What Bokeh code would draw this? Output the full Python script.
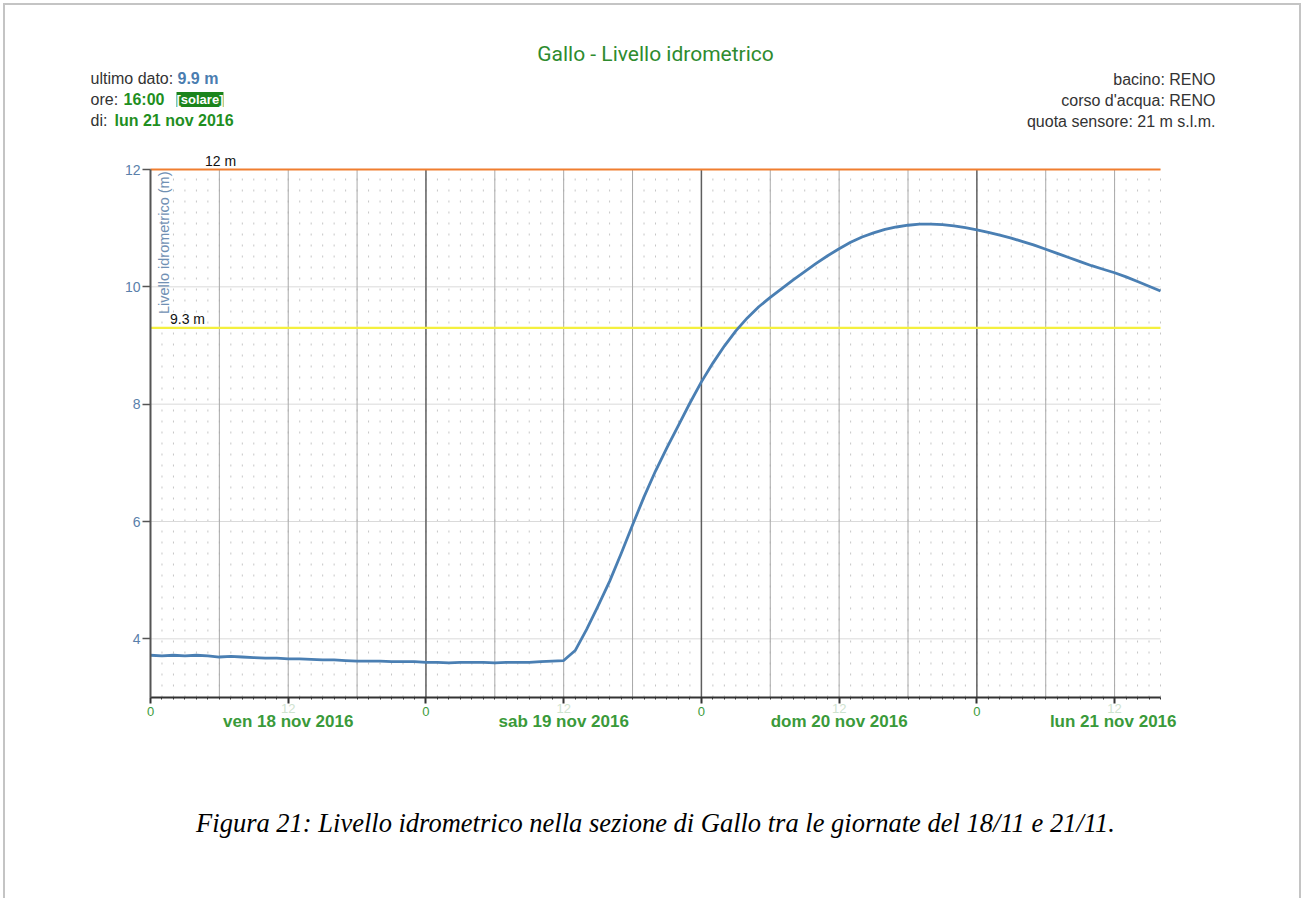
import math
from bokeh.plotting import figure
from bokeh.models import Range1d, FixedTicker, Label, LinearAxis
from bokeh.embed import file_html
from bokeh.resources import INLINE

# ---------------- data ----------------
# hours since ven 18 nov 2016 00:00 (solar time)
hours = list(range(0, 89))
level = [
    3.72, 3.71, 3.72, 3.71, 3.72, 3.71, 3.69, 3.70, 3.69, 3.68,
    3.67, 3.67, 3.66, 3.66, 3.65, 3.64, 3.64, 3.63, 3.62, 3.62,
    3.62, 3.61, 3.61, 3.61, 3.60, 3.60, 3.59, 3.60, 3.60, 3.60,
    3.59, 3.60, 3.60, 3.60, 3.61, 3.62, 3.63, 3.80, 4.16, 4.56,
    4.98, 5.45, 5.94, 6.42, 6.86, 7.26, 7.64, 8.02, 8.38, 8.70,
    8.99, 9.25, 9.47, 9.66, 9.82, 9.97, 10.12, 10.26, 10.40, 10.53,
    10.65, 10.76, 10.85, 10.92, 10.98, 11.02, 11.05, 11.07, 11.07, 11.06,
    11.04, 11.01, 10.97, 10.93, 10.88, 10.83, 10.77, 10.71, 10.64, 10.57,
    10.50, 10.43, 10.36, 10.30, 10.24, 10.17, 10.09, 10.01, 9.93,
]
x_min, x_max = 0, 88          # axis extent (hours)
y_min, y_max = 3, 12          # axis extent (m)
thresholds = [12.0, 9.3]
threshold_labels = ["12 m", "9.3 m"]
threshold_colors = ["#f07e30", "#f4f03e"]
y_ticks = [4, 6, 8, 10, 12]
x_major = [0, 12, 24, 36, 48, 60, 72, 84]
x_major_text = ["0", "", "0", "", "0", "", "0", ""]
x_noon = [12, 36, 60, 84]
day_names = ["ven 18 nov 2016", "sab 19 nov 2016", "dom 20 nov 2016", "lun 21 nov 2016"]
day_bounds = [24, 48, 72]
six_hour_lines = [6, 12, 18, 30, 36, 42, 54, 60, 66, 78, 84]

SANS = "Liberation Sans"

# ---------------- layout (page pixels) ----------------
W, H = 1298, 895
CX0, CY0 = 5, 5                        # canvas origin on the page
FRAME_L, FRAME_R, FRAME_T, FRAME_B = 150, 1160, 169, 697
px_h = (FRAME_R - FRAME_L) / (x_max - x_min)
px_m = (FRAME_B - FRAME_T) / (y_max - y_min)
xr = Range1d(x_min - (FRAME_L - CX0) / px_h, x_max + (CX0 + W - FRAME_R) / px_h)
yr = Range1d(y_min - (CY0 + H - FRAME_B) / px_m, y_max + (FRAME_T - CY0) / px_m)

p = figure(
    width=W, height=H, x_range=xr, y_range=yr,
    x_axis_location=None, y_axis_location=None,
    output_backend="svg", toolbar_location=None,
    min_border=0, min_border_left=0, min_border_right=0,
    min_border_top=0, min_border_bottom=0,
    background_fill_color="white", border_fill_color="white",
    styles={"margin-left": "3px", "margin-top": "3px",
            "border-top": "2px solid #c4c4c4", "border-left": "2px solid #c4c4c4",
            "border-right": "2px solid #c4c4c4"},
)
p.outline_line_color = None
p.title.visible = False
p.xgrid.visible = False
p.ygrid.visible = False

# ---------------- grid lines ----------------
n_h = len(hours)
p.segment(x0=hours, y0=[y_min] * n_h, x1=hours, y1=[y_max] * n_h,
          line_color="#c6c6c6", line_width=1, line_dash="2 9")
p.segment(x0=[x_min] * len(y_ticks), y0=y_ticks,
          x1=[x_max] * len(y_ticks), y1=y_ticks, line_color="#dadada", line_width=1)
p.segment(x0=six_hour_lines, y0=[y_min] * len(six_hour_lines),
          x1=six_hour_lines, y1=[y_max] * len(six_hour_lines),
          line_color="#a9a9a9", line_width=1)
p.segment(x0=day_bounds, y0=[y_min] * len(day_bounds),
          x1=day_bounds, y1=[y_max] * len(day_bounds),
          line_color="#5e5e5e", line_width=1.5)

# thresholds
p.segment(x0=[x_min] * len(thresholds), y0=thresholds, x1=[x_max] * len(thresholds),
          y1=thresholds, line_color=threshold_colors, line_width=2.2)

# series
p.line(hours, level, line_color="#4a7fb3", line_width=2.8, line_join="round")

# ---------------- axes ----------------
xa = LinearAxis(fixed_location=y_min, bounds=(x_min, x_max),
                ticker=FixedTicker(ticks=x_major, minor_ticks=hours))
xa.major_label_overrides = {t: s for t, s in zip(x_major, x_major_text)}
xa.axis_line_color = "#333333"
xa.axis_line_width = 2
xa.major_tick_line_color = "#333333"
xa.major_tick_line_width = 2
xa.major_tick_out = 6
xa.major_tick_in = 0
xa.minor_tick_line_color = "#333333"
xa.minor_tick_out = 2
xa.minor_tick_in = 0
xa.major_label_text_color = "#3c9c3c"
xa.major_label_text_font = SANS
xa.major_label_text_font_size = "13px"
xa.major_label_standoff = 3
p.add_layout(xa, "below")

ya = LinearAxis(fixed_location=x_min, bounds=(y_min, y_max), ticker=FixedTicker(ticks=y_ticks))
ya.axis_line_color = "#555555"
ya.axis_line_width = 2
ya.major_tick_line_color = "#555555"
ya.major_tick_line_width = 1.5
ya.major_tick_out = 8
ya.major_tick_in = 0
ya.minor_tick_line_color = None
ya.major_label_text_color = "#5a80aa"
ya.major_label_text_font = SANS
ya.major_label_text_font_size = "14px"
ya.major_label_standoff = 2
p.add_layout(ya, "left")


# ---------------- text (page pixel positions -> offsets from frame corners) ----------------
def top_label(text, px, py, **kw):
    kw.setdefault("text_font", SANS)
    kw.setdefault("text_baseline", "middle")
    p.add_layout(Label(x=x_min, y=y_max, x_offset=px - FRAME_L, y_offset=FRAME_T - py,
                       text=text, **kw))


def bottom_label(text, xh, px_off, py, **kw):
    kw.setdefault("text_font", SANS)
    kw.setdefault("text_baseline", "middle")
    p.add_layout(Label(x=xh, y=y_min, x_offset=px_off, y_offset=FRAME_B - py,
                       text=text, **kw))


# title
top_label("Gallo - Livello idrometrico", 655, 53, text_font="Roboto",
          text_font_size="21px", text_color="#2e8b2e", text_align="center")

# left info block
GRAY = "#333333"
top_label("ultimo dato:", 90, 78, text_font_size="16px", text_color=GRAY)
top_label("9.9 m", 177, 78, text_font_size="16px", text_color="#4a7db0", text_font_style="bold")
top_label("ore:", 90, 99, text_font_size="16px", text_color=GRAY)
top_label("16:00", 123, 99, text_font_size="16px", text_color="#1f8f1f", text_font_style="bold")
top_label("[solare]", 176, 99, text_font_size="13px", text_color="white", text_font_style="bold",
          background_fill_color="#1b841b")
top_label("di:", 90, 120, text_font_size="16px", text_color=GRAY)
top_label("lun 21 nov 2016", 114, 120, text_font_size="16px", text_color="#1f8f1f",
          text_font_style="bold")

# right info block
for txt, py in zip(["bacino: RENO", "corso d'acqua: RENO", "quota sensore: 21 m s.l.m."],
                   [79, 100, 121]):
    top_label(txt, 1215, py, text_font_size="16px", text_color=GRAY, text_align="right")

# y axis title (inside frame)
top_label("Livello idrometrico (m)", 163, 171, text_font_size="14.5px", text_color="#7090b4",
          text_align="right", angle=math.pi / 2)

# threshold labels
for txt, thr, px in zip(threshold_labels, thresholds, [220, 187]):
    p.add_layout(Label(x=x_min, y=thr, x_offset=px - FRAME_L, y_offset=9, text=txt,
                       text_font=SANS, text_font_size="14px", text_color="#111111",
                       text_align="center", text_baseline="middle"))

# faint "12" tick labels and day names
for xh in x_noon:
    bottom_label("12", xh, 0, 708, text_font_size="13px", text_color="#cfe3cf",
                 text_align="center")
for i, (xh, name) in enumerate(zip(x_noon, day_names)):
    if i == len(day_names) - 1:
        bottom_label(name, x_max, 16, 721, text_font_size="17px", text_color="#3a9a3a",
                     text_font_style="bold", text_align="right")
    else:
        bottom_label(name, xh, 0, 721, text_font_size="17px", text_color="#3a9a3a",
                     text_font_style="bold", text_align="center")

# caption
bottom_label("Figura 21: Livello idrometrico nella sezione di Gallo tra le giornate del 18/11 e 21/11.",
             x_min, 655 - FRAME_L, 822, text_font="Liberation Serif", text_font_size="26.5px",
             text_font_style="italic", text_color="#000000", text_align="center")

open("out.html", "w").write(file_html(p, INLINE))
